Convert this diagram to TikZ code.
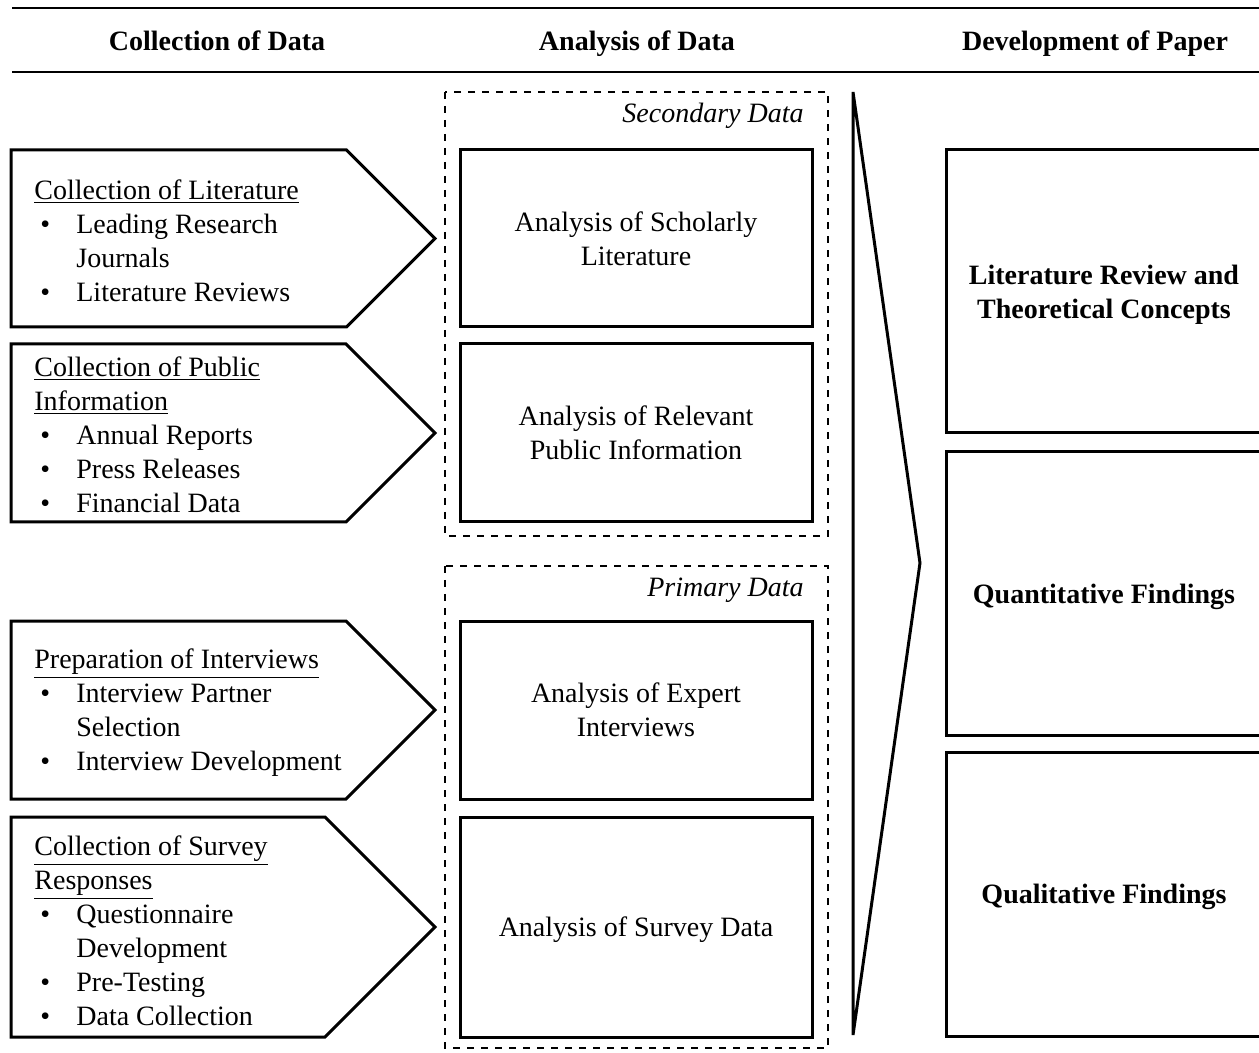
\documentclass[tikz,border=0pt]{standalone}
\usepackage{fontspec}
\setmainfont{Liberation Serif}
\usetikzlibrary{positioning}

\newcommand{\bul}{\makebox[21pt][l]{\hspace{3pt}\textbullet}}
\newcommand{\cont}{\hspace*{21pt}}

\begin{document}
\begin{tikzpicture}[x=0.5pt,y=-0.5pt,
  every node/.style={font=\fontsize{14}{17}\selectfont},
  hdr/.style={anchor=base,font=\fontsize{14}{17}\selectfont\bfseries},
  pent/.style={draw,line width=1.5pt,line join=miter},
  listtxt/.style={anchor=west,align=left,inner sep=0pt},
  anabox/.style={draw,line width=1.5pt,minimum width=176pt,align=center,inner sep=0pt,text depth=0pt},
  findbox/.style={draw,line width=1.5pt,minimum width=158pt,align=center,inner sep=0pt,text depth=0pt,
    font=\fontsize{14}{17}\selectfont\bfseries},
  dashbox/.style={draw,line width=1pt,dash pattern=on 3.5pt off 3.5pt},
  grptxt/.style={anchor=east,inner sep=0pt,font=\fontsize{14}{17}\selectfont\itshape}]
\useasboundingbox (0,0) rectangle (1259,1053);
\clip (0,0) rectangle (1259,1053);

% Header
\draw[line width=1.3pt] (12,8) -- (1259,8);
\draw[line width=0.9pt] (12,72) -- (1259,72);
\node[hdr] (h1) at (217,51) {Collection of Data};
\node[hdr] (h2) at (637,51) {Analysis of Data};
\node[hdr] (h3) at (1095,51) {Development of Paper};

% Collection arrows
\foreach \t/\b in {150/327, 344/522, 621/799, 817/1037}
  \draw[pent] (11,\t) -- ({435-(\b-\t)/2},\t) -- (435,{(\t+\b)/2})
    -- ({435-(\b-\t)/2},\b) -- (11,\b) -- cycle;

\node[listtxt] (c1) at (34,241) {\underline{Collection of Literature}\\
  \bul Leading Research\\ \cont Journals\\ \bul Literature Reviews};
\node[listtxt] (c2) at (34,435) {\underline{Collection of Public}\\
  \underline{Information}\\ \bul Annual Reports\\ \bul Press Releases\\ \bul Financial Data};
\node[listtxt] (c3) at (34,713) {\underline{Preparation of Interviews}\\
  \bul Interview Partner\\ \cont Selection\\ \bul Interview Development};
\node[listtxt] (c4) at (34,931) {\underline{Collection of Survey}\\
  \underline{Responses}\\ \bul Questionnaire\\ \cont Development\\ \bul Pre-Testing\\ \bul Data Collection};

% Analysis groups
\draw[dashbox] (445,92) rectangle (828,536);
\draw[dashbox] (445,566) rectangle (828,1048);
\node[grptxt] (g1) at (804,116) {Secondary Data};
\node[grptxt] (g2) at (804,590) {Primary Data};

\node[anabox,minimum height=88.5pt] (a1) at (636,238.5) {Analysis of Scholarly\\Literature};
\node[anabox,minimum height=89pt] (a2) at (636,433) {Analysis of Relevant\\Public Information};
\node[anabox,minimum height=89pt] (a3) at (636,710) {Analysis of Expert\\Interviews};
\node[anabox,minimum height=110pt] (a4) at (636,927) {Analysis of Survey Data};

% Big arrow
\draw[line width=1.5pt,line join=miter] (853,92) -- (920,563) -- (853,1035) -- cycle;

% Development of paper
\node[findbox,minimum height=141.5pt] (f1) at (1104,291.5) {Literature Review and\\Theoretical Concepts};
\node[findbox,minimum height=141.5pt] (f2) at (1104,593.5) {Quantitative Findings};
\node[findbox,minimum height=142pt] (f3) at (1104,894) {Qualitative Findings};
\end{tikzpicture}
\end{document}
